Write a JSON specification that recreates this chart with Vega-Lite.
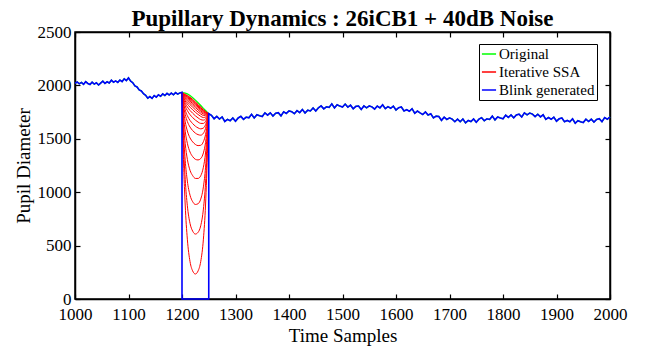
{
"$schema": "https://vega.github.io/schema/vega-lite/v6.json",
"width": 535, "height": 267,
"autosize": "none",
"padding": {"left": 75, "top": 32, "right": 41, "bottom": 52},
"background": "white",
"title": {"text": "Pupillary Dynamics : 26iCB1 + 40dB Noise", "font": "Liberation Serif", "fontSize": 23, "fontWeight": "bold", "color": "black", "offset": -8, "anchor": "middle", "frame": "group"},
"config": {
 "view": {"stroke": "#000", "strokeWidth": 1.5, "strokeOpacity": 1},
 "axis": {"grid": false, "domain": true, "domainColor": "#000", "domainWidth": 1.5, "domainOpacity": 1, "tickColor": "#000", "tickOpacity": 1, "labelColor": "#000", "titleColor": "#000", "labelFont": "Liberation Serif", "titleFont": "Liberation Serif", "labelFontSize": 17, "titleFontSize": 19, "titleFontWeight": "normal", "tickSize": -5, "tickWidth": 1.2, "labelFlush": false}
},
"datasets": {
"sig": [
{"t":1000,"o":2020,"b":2020},{"t":1004,"o":2032,"b":2032},{"t":1008,"o":2015,"b":2015},{"t":1012,"o":2028,"b":2028},{"t":1016,"o":2010,"b":2010},{"t":1020,"o":2035,"b":2035},{"t":1024,"o":2018,"b":2018},{"t":1028,"o":2008,"b":2008},{"t":1032,"o":2030,"b":2030},{"t":1036,"o":2012,"b":2012},{"t":1040,"o":2025,"b":2025},{"t":1044,"o":2004,"b":2004},{"t":1048,"o":2022,"b":2022},{"t":1052,"o":2040,"b":2040},{"t":1056,"o":2018,"b":2018},{"t":1060,"o":2034,"b":2034},{"t":1064,"o":2022,"b":2022},{"t":1068,"o":2048,"b":2048},{"t":1072,"o":2030,"b":2030},{"t":1076,"o":2042,"b":2042},{"t":1080,"o":2028,"b":2028},{"t":1084,"o":2050,"b":2050},{"t":1088,"o":2036,"b":2036},{"t":1092,"o":2062,"b":2062},{"t":1096,"o":2045,"b":2045},{"t":1100,"o":2070,"b":2070},{"t":1104,"o":2040,"b":2040},{"t":1108,"o":2025,"b":2025},{"t":1112,"o":1995,"b":1995},{"t":1116,"o":1985,"b":1985},{"t":1120,"o":1958,"b":1958},{"t":1124,"o":1948,"b":1948},{"t":1128,"o":1922,"b":1922},{"t":1132,"o":1908,"b":1908},{"t":1136,"o":1880,"b":1880},{"t":1140,"o":1895,"b":1895},{"t":1144,"o":1878,"b":1878},{"t":1148,"o":1905,"b":1905},{"t":1152,"o":1890,"b":1890},{"t":1156,"o":1912,"b":1912},{"t":1160,"o":1898,"b":1898},{"t":1164,"o":1920,"b":1920},{"t":1168,"o":1905,"b":1905},{"t":1172,"o":1925,"b":1925},{"t":1176,"o":1910,"b":1910},{"t":1180,"o":1928,"b":1928},{"t":1184,"o":1912,"b":1912},{"t":1188,"o":1932,"b":1932},{"t":1192,"o":1918,"b":1918},{"t":1196,"o":1930,"b":1930},{"t":1200,"o":1935,"b":1935},
{"t":1200,"o":1935,"b":0},{"t":1202,"o":1932,"b":0},{"t":1206,"o":1927,"b":0},{"t":1210,"o":1920,"b":0},{"t":1215,"o":1905,"b":0},{"t":1220,"o":1885,"b":0},{"t":1225,"o":1862,"b":0},{"t":1230,"o":1838,"b":0},{"t":1235,"o":1812,"b":0},{"t":1240,"o":1785,"b":0},{"t":1244,"o":1765,"b":0},{"t":1248,"o":1745,"b":0},{"t":1250,"o":1735,"b":0},{"t":1250,"o":1735,"b":1735},
{"t":1255,"o":1720,"b":1720},{"t":1260,"o":1688,"b":1688},{"t":1265,"o":1710,"b":1710},{"t":1270,"o":1685,"b":1685},{"t":1275,"o":1705,"b":1705},{"t":1280,"o":1662,"b":1662},{"t":1285,"o":1682,"b":1682},{"t":1290,"o":1669,"b":1669},{"t":1295,"o":1695,"b":1695},{"t":1300,"o":1665,"b":1665},{"t":1305,"o":1695,"b":1695},{"t":1310,"o":1710,"b":1710},{"t":1315,"o":1682,"b":1682},{"t":1320,"o":1702,"b":1702},{"t":1325,"o":1697,"b":1697},{"t":1330,"o":1729,"b":1729},{"t":1335,"o":1695,"b":1695},{"t":1340,"o":1725,"b":1725},{"t":1345,"o":1716,"b":1716},{"t":1350,"o":1709,"b":1709},{"t":1355,"o":1743,"b":1743},{"t":1360,"o":1722,"b":1722},{"t":1365,"o":1743,"b":1743},{"t":1370,"o":1713,"b":1713},{"t":1375,"o":1739,"b":1739},{"t":1380,"o":1744,"b":1744},{"t":1385,"o":1715,"b":1715},{"t":1390,"o":1753,"b":1753},{"t":1395,"o":1738,"b":1738},{"t":1400,"o":1761,"b":1761},{"t":1405,"o":1754,"b":1754},{"t":1410,"o":1735,"b":1735},{"t":1415,"o":1764,"b":1764},{"t":1420,"o":1745,"b":1745},{"t":1425,"o":1775,"b":1775},{"t":1430,"o":1742,"b":1742},{"t":1435,"o":1768,"b":1768},{"t":1440,"o":1761,"b":1761},{"t":1445,"o":1789,"b":1789},{"t":1450,"o":1760,"b":1760},{"t":1455,"o":1791,"b":1791},{"t":1460,"o":1808,"b":1808},{"t":1465,"o":1780,"b":1780},{"t":1470,"o":1800,"b":1800},{"t":1475,"o":1794,"b":1794},{"t":1480,"o":1827,"b":1827},{"t":1485,"o":1790,"b":1790},{"t":1490,"o":1818,"b":1818},{"t":1495,"o":1806,"b":1806},{"t":1500,"o":1797,"b":1797},{"t":1505,"o":1825,"b":1825},{"t":1510,"o":1797,"b":1797},{"t":1515,"o":1815,"b":1815},{"t":1520,"o":1781,"b":1781},{"t":1525,"o":1804,"b":1804},{"t":1530,"o":1807,"b":1807},{"t":1535,"o":1774,"b":1774},{"t":1540,"o":1808,"b":1808},{"t":1545,"o":1790,"b":1790},{"t":1550,"o":1808,"b":1808},{"t":1555,"o":1799,"b":1799},{"t":1560,"o":1778,"b":1778},{"t":1565,"o":1807,"b":1807},{"t":1570,"o":1790,"b":1790},{"t":1575,"o":1818,"b":1818},{"t":1580,"o":1782,"b":1782},{"t":1585,"o":1801,"b":1801},{"t":1590,"o":1786,"b":1786},{"t":1595,"o":1806,"b":1806},{"t":1600,"o":1770,"b":1770},{"t":1605,"o":1791,"b":1791},{"t":1610,"o":1798,"b":1798},{"t":1615,"o":1761,"b":1761},{"t":1620,"o":1772,"b":1772},{"t":1625,"o":1758,"b":1758},{"t":1630,"o":1782,"b":1782},{"t":1635,"o":1739,"b":1739},{"t":1640,"o":1760,"b":1760},{"t":1645,"o":1742,"b":1742},{"t":1650,"o":1727,"b":1727},{"t":1655,"o":1752,"b":1752},{"t":1660,"o":1722,"b":1722},{"t":1665,"o":1734,"b":1734},{"t":1670,"o":1696,"b":1696},{"t":1675,"o":1712,"b":1712},{"t":1680,"o":1709,"b":1709},{"t":1685,"o":1673,"b":1673},{"t":1690,"o":1703,"b":1703},{"t":1695,"o":1681,"b":1681},{"t":1700,"o":1696,"b":1696},{"t":1705,"o":1684,"b":1684},{"t":1710,"o":1660,"b":1660},{"t":1715,"o":1684,"b":1684},{"t":1720,"o":1660,"b":1660},{"t":1725,"o":1686,"b":1686},{"t":1730,"o":1649,"b":1649},{"t":1735,"o":1672,"b":1672},{"t":1740,"o":1661,"b":1661},{"t":1745,"o":1686,"b":1686},{"t":1750,"o":1655,"b":1655},{"t":1755,"o":1684,"b":1684},{"t":1760,"o":1698,"b":1698},{"t":1765,"o":1669,"b":1669},{"t":1770,"o":1687,"b":1687},{"t":1775,"o":1681,"b":1681},{"t":1780,"o":1712,"b":1712},{"t":1785,"o":1677,"b":1677},{"t":1790,"o":1705,"b":1705},{"t":1795,"o":1695,"b":1695},{"t":1800,"o":1687,"b":1687},{"t":1805,"o":1721,"b":1721},{"t":1810,"o":1700,"b":1700},{"t":1815,"o":1723,"b":1723},{"t":1820,"o":1696,"b":1696},{"t":1825,"o":1724,"b":1724},{"t":1830,"o":1731,"b":1731},{"t":1835,"o":1704,"b":1704},{"t":1840,"o":1743,"b":1743},{"t":1845,"o":1724,"b":1724},{"t":1850,"o":1741,"b":1741},{"t":1855,"o":1731,"b":1731},{"t":1860,"o":1708,"b":1708},{"t":1865,"o":1730,"b":1730},{"t":1870,"o":1705,"b":1705},{"t":1875,"o":1725,"b":1725},{"t":1880,"o":1682,"b":1682},{"t":1885,"o":1699,"b":1699},{"t":1890,"o":1683,"b":1683},{"t":1895,"o":1703,"b":1703},{"t":1900,"o":1665,"b":1665},{"t":1905,"o":1687,"b":1687},{"t":1910,"o":1695,"b":1695},{"t":1915,"o":1660,"b":1660},{"t":1920,"o":1672,"b":1672},{"t":1925,"o":1660,"b":1660},{"t":1930,"o":1687,"b":1687},{"t":1935,"o":1646,"b":1646},{"t":1940,"o":1670,"b":1670},{"t":1945,"o":1659,"b":1659},{"t":1950,"o":1652,"b":1652},{"t":1955,"o":1684,"b":1684},{"t":1960,"o":1662,"b":1662},{"t":1965,"o":1684,"b":1684},{"t":1970,"o":1656,"b":1656},{"t":1975,"o":1682,"b":1682},{"t":1980,"o":1689,"b":1689},{"t":1985,"o":1660,"b":1660},{"t":1990,"o":1698,"b":1698},{"t":1995,"o":1683,"b":1683},{"t":2000,"o":1706,"b":1706}
],
"ssa": [
{"k":1,"t":1200,"v":1935},{"k":1,"t":1202,"v":1450},{"k":1,"t":1206,"v":880},{"k":1,"t":1210,"v":560},{"k":1,"t":1215,"v":350},{"k":1,"t":1220,"v":262},{"k":1,"t":1225,"v":234},{"k":1,"t":1230,"v":262},{"k":1,"t":1235,"v":350},{"k":1,"t":1240,"v":560},{"k":1,"t":1244,"v":880},{"k":1,"t":1248,"v":1450},{"k":1,"t":1249,"v":1640},{"k":1,"t":1250,"v":1735},
{"k":2,"t":1200,"v":1935},{"k":2,"t":1202,"v":1561},{"k":2,"t":1206,"v":1121},{"k":2,"t":1210,"v":873},{"k":2,"t":1215,"v":708},{"k":2,"t":1220,"v":635},{"k":2,"t":1225,"v":608},{"k":2,"t":1230,"v":624},{"k":2,"t":1235,"v":686},{"k":2,"t":1240,"v":842},{"k":2,"t":1244,"v":1084},{"k":2,"t":1248,"v":1518},{"k":2,"t":1249,"v":1663},{"k":2,"t":1250,"v":1735},
{"k":3,"t":1200,"v":1935},{"k":3,"t":1202,"v":1643},{"k":3,"t":1206,"v":1299},{"k":3,"t":1210,"v":1104},{"k":3,"t":1215,"v":972},{"k":3,"t":1220,"v":911},{"k":3,"t":1225,"v":885},{"k":3,"t":1230,"v":892},{"k":3,"t":1235,"v":935},{"k":3,"t":1240,"v":1050},{"k":3,"t":1244,"v":1234},{"k":3,"t":1248,"v":1568},{"k":3,"t":1249,"v":1680},{"k":3,"t":1250,"v":1735},
{"k":4,"t":1200,"v":1935},{"k":4,"t":1202,"v":1715},{"k":4,"t":1206,"v":1456},{"k":4,"t":1210,"v":1308},{"k":4,"t":1215,"v":1205},{"k":4,"t":1220,"v":1155},{"k":4,"t":1225,"v":1129},{"k":4,"t":1230,"v":1129},{"k":4,"t":1235,"v":1154},{"k":4,"t":1240,"v":1234},{"k":4,"t":1244,"v":1367},{"k":4,"t":1248,"v":1612},{"k":4,"t":1249,"v":1695},{"k":4,"t":1250,"v":1735},
{"k":5,"t":1200,"v":1935},{"k":5,"t":1202,"v":1768},{"k":5,"t":1206,"v":1571},{"k":5,"t":1210,"v":1458},{"k":5,"t":1215,"v":1376},{"k":5,"t":1220,"v":1333},{"k":5,"t":1225,"v":1308},{"k":5,"t":1230,"v":1302},{"k":5,"t":1235,"v":1315},{"k":5,"t":1240,"v":1368},{"k":5,"t":1244,"v":1464},{"k":5,"t":1248,"v":1645},{"k":5,"t":1249,"v":1706},{"k":5,"t":1250,"v":1735},
{"k":6,"t":1200,"v":1935},{"k":6,"t":1202,"v":1809},{"k":6,"t":1206,"v":1660},{"k":6,"t":1210,"v":1573},{"k":6,"t":1215,"v":1508},{"k":6,"t":1220,"v":1471},{"k":6,"t":1225,"v":1447},{"k":6,"t":1230,"v":1436},{"k":6,"t":1235,"v":1439},{"k":6,"t":1240,"v":1473},{"k":6,"t":1244,"v":1539},{"k":6,"t":1248,"v":1670},{"k":6,"t":1249,"v":1714},{"k":6,"t":1250,"v":1735},
{"k":7,"t":1200,"v":1935},{"k":7,"t":1202,"v":1840},{"k":7,"t":1206,"v":1728},{"k":7,"t":1210,"v":1662},{"k":7,"t":1215,"v":1610},{"k":7,"t":1220,"v":1577},{"k":7,"t":1225,"v":1553},{"k":7,"t":1230,"v":1539},{"k":7,"t":1235,"v":1534},{"k":7,"t":1240,"v":1552},{"k":7,"t":1244,"v":1597},{"k":7,"t":1248,"v":1689},{"k":7,"t":1249,"v":1721},{"k":7,"t":1250,"v":1735},
{"k":8,"t":1200,"v":1935},{"k":8,"t":1202,"v":1860},{"k":8,"t":1206,"v":1770},{"k":8,"t":1210,"v":1716},{"k":8,"t":1215,"v":1672},{"k":8,"t":1220,"v":1642},{"k":8,"t":1225,"v":1618},{"k":8,"t":1230,"v":1602},{"k":8,"t":1235,"v":1593},{"k":8,"t":1240,"v":1601},{"k":8,"t":1244,"v":1632},{"k":8,"t":1248,"v":1701},{"k":8,"t":1249,"v":1725},{"k":8,"t":1250,"v":1735},
{"k":9,"t":1200,"v":1935},{"k":9,"t":1202,"v":1877},{"k":9,"t":1206,"v":1807},{"k":9,"t":1210,"v":1764},{"k":9,"t":1215,"v":1726},{"k":9,"t":1220,"v":1698},{"k":9,"t":1225,"v":1675},{"k":9,"t":1230,"v":1657},{"k":9,"t":1235,"v":1644},{"k":9,"t":1240,"v":1644},{"k":9,"t":1244,"v":1663},{"k":9,"t":1248,"v":1711},{"k":9,"t":1249,"v":1728},{"k":9,"t":1250,"v":1735},
{"k":10,"t":1200,"v":1935},{"k":10,"t":1202,"v":1889},{"k":10,"t":1206,"v":1833},{"k":10,"t":1210,"v":1798},{"k":10,"t":1215,"v":1765},{"k":10,"t":1220,"v":1739},{"k":10,"t":1225,"v":1715},{"k":10,"t":1230,"v":1696},{"k":10,"t":1235,"v":1680},{"k":10,"t":1240,"v":1675},{"k":10,"t":1244,"v":1685},{"k":10,"t":1248,"v":1718},{"k":10,"t":1249,"v":1731},{"k":10,"t":1250,"v":1735},
{"k":11,"t":1200,"v":1935},{"k":11,"t":1202,"v":1898},{"k":11,"t":1206,"v":1854},{"k":11,"t":1210,"v":1825},{"k":11,"t":1215,"v":1796},{"k":11,"t":1220,"v":1771},{"k":11,"t":1225,"v":1748},{"k":11,"t":1230,"v":1728},{"k":11,"t":1235,"v":1710},{"k":11,"t":1240,"v":1699},{"k":11,"t":1244,"v":1703},{"k":11,"t":1248,"v":1724},{"k":11,"t":1249,"v":1733},{"k":11,"t":1250,"v":1735},
{"k":12,"t":1200,"v":1935},{"k":12,"t":1202,"v":1905},{"k":12,"t":1206,"v":1869},{"k":12,"t":1210,"v":1845},{"k":12,"t":1215,"v":1819},{"k":12,"t":1220,"v":1796},{"k":12,"t":1225,"v":1772},{"k":12,"t":1230,"v":1751},{"k":12,"t":1235,"v":1732},{"k":12,"t":1240,"v":1718},{"k":12,"t":1244,"v":1716},{"k":12,"t":1248,"v":1729},{"k":12,"t":1249,"v":1734},{"k":12,"t":1250,"v":1735},
{"k":13,"t":1200,"v":1935},{"k":13,"t":1202,"v":1911},{"k":13,"t":1206,"v":1882},{"k":13,"t":1210,"v":1862},{"k":13,"t":1215,"v":1838},{"k":13,"t":1220,"v":1815},{"k":13,"t":1225,"v":1792},{"k":13,"t":1230,"v":1770},{"k":13,"t":1235,"v":1749},{"k":13,"t":1240,"v":1732},{"k":13,"t":1244,"v":1727},{"k":13,"t":1248,"v":1732},{"k":13,"t":1249,"v":1736},{"k":13,"t":1250,"v":1735},
{"k":14,"t":1200,"v":1935},{"k":14,"t":1202,"v":1916},{"k":14,"t":1206,"v":1891},{"k":14,"t":1210,"v":1874},{"k":14,"t":1215,"v":1852},{"k":14,"t":1220,"v":1830},{"k":14,"t":1225,"v":1807},{"k":14,"t":1230,"v":1784},{"k":14,"t":1235,"v":1762},{"k":14,"t":1240,"v":1743},{"k":14,"t":1244,"v":1735},{"k":14,"t":1248,"v":1735},{"k":14,"t":1249,"v":1737},{"k":14,"t":1250,"v":1735},
{"k":15,"t":1200,"v":1935},{"k":15,"t":1202,"v":1919},{"k":15,"t":1206,"v":1900},{"k":15,"t":1210,"v":1885},{"k":15,"t":1215,"v":1865},{"k":15,"t":1220,"v":1843},{"k":15,"t":1225,"v":1820},{"k":15,"t":1230,"v":1797},{"k":15,"t":1235,"v":1774},{"k":15,"t":1240,"v":1753},{"k":15,"t":1244,"v":1742},{"k":15,"t":1248,"v":1737},{"k":15,"t":1249,"v":1737},{"k":15,"t":1250,"v":1735},
{"k":16,"t":1200,"v":1935},{"k":16,"t":1202,"v":1922},{"k":16,"t":1206,"v":1906},{"k":16,"t":1210,"v":1893},{"k":16,"t":1215,"v":1874},{"k":16,"t":1220,"v":1853},{"k":16,"t":1225,"v":1829},{"k":16,"t":1230,"v":1806},{"k":16,"t":1235,"v":1783},{"k":16,"t":1240,"v":1760},{"k":16,"t":1244,"v":1747},{"k":16,"t":1248,"v":1739},{"k":16,"t":1249,"v":1738},{"k":16,"t":1250,"v":1735},
{"k":17,"t":1200,"v":1935},{"k":17,"t":1202,"v":1925},{"k":17,"t":1206,"v":1911},{"k":17,"t":1210,"v":1900},{"k":17,"t":1215,"v":1882},{"k":17,"t":1220,"v":1861},{"k":17,"t":1225,"v":1838},{"k":17,"t":1230,"v":1814},{"k":17,"t":1235,"v":1790},{"k":17,"t":1240,"v":1767},{"k":17,"t":1244,"v":1752},{"k":17,"t":1248,"v":1741},{"k":17,"t":1249,"v":1738},{"k":17,"t":1250,"v":1735},
{"k":18,"t":1200,"v":1935},{"k":18,"t":1202,"v":1927},{"k":18,"t":1206,"v":1917},{"k":18,"t":1210,"v":1906},{"k":18,"t":1215,"v":1889},{"k":18,"t":1220,"v":1869},{"k":18,"t":1225,"v":1846},{"k":18,"t":1230,"v":1822},{"k":18,"t":1235,"v":1797},{"k":18,"t":1240,"v":1773},{"k":18,"t":1244,"v":1756},{"k":18,"t":1248,"v":1742},{"k":18,"t":1249,"v":1739},{"k":18,"t":1250,"v":1735}
]
},
"layer": [
 {
  "data": {"name": "sig"},
  "mark": {"type": "line", "strokeWidth": 1.3},
  "encoding": {
   "x": {"field": "t", "type": "quantitative", "scale": {"domain": [1000, 2000], "nice": false, "zero": false}, "axis": {"orient": "top", "labels": false, "title": null, "values": [1000,1100,1200,1300,1400,1500,1600,1700,1800,1900,2000], "minExtent": 0, "maxExtent": 0}},
   "y": {"field": "o", "type": "quantitative", "scale": {"domain": [0, 2500], "nice": false}, "axis": {"orient": "right", "labels": false, "title": null, "values": [0,500,1000,1500,2000,2500], "minExtent": 0, "maxExtent": 0}},
   "order": {"value": null},
   "color": {"datum": "Original", "scale": {"domain": ["Original", "Iterative SSA", "Blink generated"], "range": ["#00ff00", "#ff0000", "#0000ff"]},
    "legend": {"orient": "none", "legendX": 404, "legendY": 12, "title": null, "symbolType": "stroke", "symbolSize": 200, "symbolStrokeWidth": 1.5, "labelFont": "Liberation Serif", "labelFontSize": 15, "labelColor": "black", "strokeColor": "black", "fillColor": "white", "padding": 2, "rowPadding": 2, "labelOffset": 2}}
  }
 },
 {
  "data": {"name": "ssa"},
  "mark": {"type": "line", "strokeWidth": 1, "interpolate": "monotone"},
  "encoding": {
   "x": {"field": "t", "type": "quantitative", "scale": {"domain": [1000, 2000], "nice": false, "zero": false}, "axis": {"orient": "bottom", "title": "Time Samples", "values": [1000,1100,1200,1300,1400,1500,1600,1700,1800,1900,2000], "labelPadding": 12, "titlePadding": 4, "format": "d"}},
   "y": {"field": "v", "type": "quantitative", "scale": {"domain": [0, 2500], "nice": false}, "axis": {"orient": "left", "title": "Pupil Diameter", "values": [0,500,1000,1500,2000,2500], "labelPadding": 9, "titlePadding": 4, "format": "d"}},
   "detail": {"field": "k"},
   "color": {"datum": "Iterative SSA"}
  }
 },
 {
  "data": {"name": "sig"},
  "mark": {"type": "line", "strokeWidth": 1.6},
  "encoding": {
   "x": {"field": "t", "type": "quantitative", "scale": {"domain": [1000, 2000], "nice": false, "zero": false}, "axis": null},
   "y": {"field": "b", "type": "quantitative", "scale": {"domain": [0, 2500], "nice": false}, "axis": null},
   "order": {"value": null},
   "color": {"datum": "Blink generated"}
  }
 }
],
"resolve": {"scale": {"x": "independent", "y": "independent"}}
}
